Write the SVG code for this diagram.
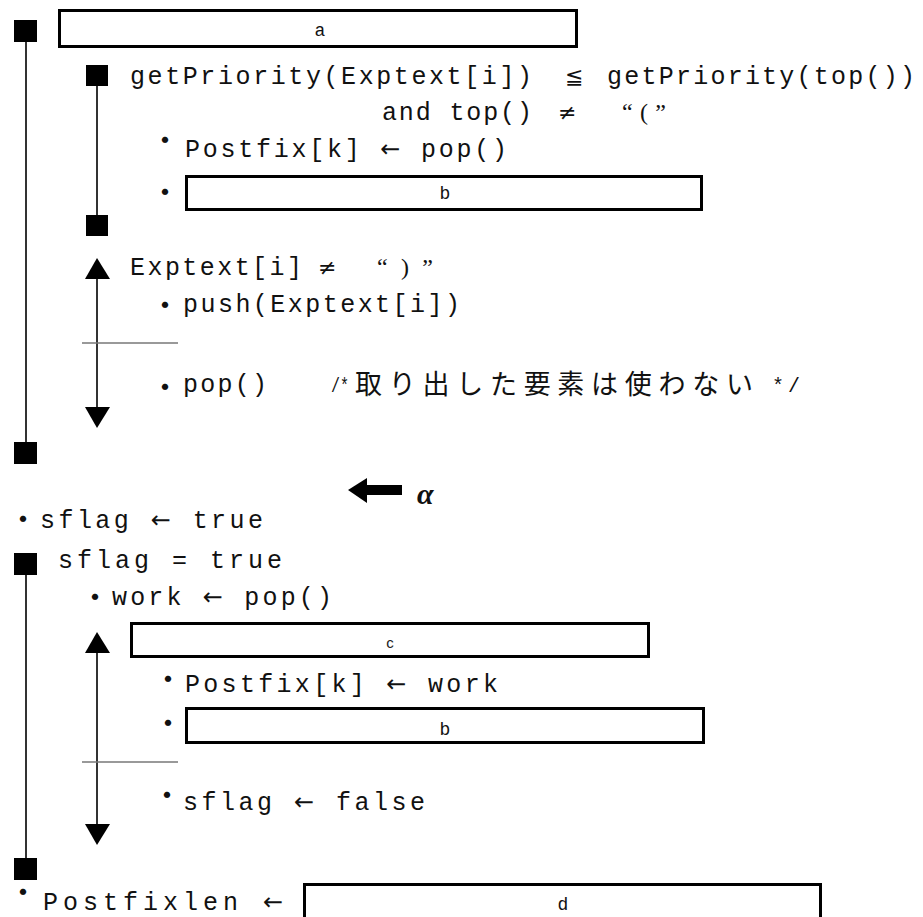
<svg xmlns="http://www.w3.org/2000/svg" width="923" height="917" viewBox="0 0 923 917">
<style>
.t{font-family:"Liberation Mono","DejaVu Sans Mono",monospace;font-size:25px;fill:#111}
.ar2{font-family:"DejaVu Sans",sans-serif;font-size:24px}
.s{font-family:"DejaVu Sans","Noto Sans CJK JP",sans-serif;font-size:22px;fill:#111}
.q{font-family:"Liberation Serif",serif;font-size:24px;fill:#111}
.j{font-family:"Noto Sans CJK JP","DejaVu Sans",sans-serif;font-size:27px;fill:#111}
.bu{font-family:"Noto Sans CJK JP",sans-serif;font-size:30px;fill:#111;text-anchor:middle}
.lb{font-family:"Liberation Mono",monospace;font-size:18px;fill:#111;text-anchor:middle}
.box{fill:#fff;stroke:#000;stroke-width:3}
.sq{fill:#000}
.ln{stroke:#333;stroke-width:2;fill:none}
.dv{stroke:#777;stroke-width:1.5;fill:none}
.ar{fill:#000}
</style>
<rect width="923" height="917" fill="#fff"/>
<g id="connectors">
<line class="ln" x1="26" y1="42" x2="26" y2="442"/>
<line class="ln" x1="97" y1="86" x2="97" y2="215"/>
<line class="ln" x1="97" y1="279" x2="97" y2="407"/>
<line class="dv" x1="82" y1="343" x2="178" y2="343"/>
<polygon class="ar" points="97,258 85,279 110,279"/>
<polygon class="ar" points="85,407 110,407 97,428"/>
<line class="ln" x1="26" y1="575" x2="26" y2="858"/>
<line class="ln" x1="97" y1="653" x2="97" y2="824"/>
<line class="dv" x1="82" y1="762" x2="178" y2="762"/>
<polygon class="ar" points="97,632 85,653 110,653"/>
<polygon class="ar" points="85,824 110,824 97,845"/>
</g>
<g id="loop1-start"><rect class="sq" x="14" y="20" width="23" height="22"/></g>
<g id="box-a"><rect class="box" x="59.5" y="10.5" width="517" height="36"/><text class="lb" x="320" y="36">a</text></g>
<g id="loop2-start"><rect class="sq" x="86" y="65" width="22" height="21"/>
<text class="t" x="130" y="84" textLength="402" lengthAdjust="spacing">getPriority(Exptext[i])</text>
<text class="s" x="565" y="84">≦</text>
<text class="t" x="607" y="84" textLength="308" lengthAdjust="spacing">getPriority(top())</text>
<text class="t" x="382" y="120" textLength="150" lengthAdjust="spacing">and top()</text>
<text class="s" x="558" y="120">≠</text>
<text class="q" x="622" y="120" textLength="44" lengthAdjust="spacing">“(”</text>
</g>
<g id="stmt-postfix-pop"><text class="bu" x="165" y="151">・</text><text class="t" x="185" y="157" textLength="322" lengthAdjust="spacing">Postfix[k] <tspan class="ar2">←</tspan> pop()</text></g>
<g id="box-b1"><text class="bu" x="165" y="203">・</text><rect class="box" x="186.5" y="176.5" width="515" height="33"/><text class="lb" x="445" y="199">b</text></g>
<g id="loop2-end"><rect class="sq" x="86" y="215" width="22" height="21"/></g>
<g id="branch1">
<text class="t" x="130" y="275" textLength="172" lengthAdjust="spacing">Exptext[i]</text>
<text class="s" x="318" y="275">≠</text>
<text class="q" x="377" y="275" textLength="56" lengthAdjust="spacing">“)”</text>
</g>
<g id="stmt-push"><text class="bu" x="165" y="316">・</text><text class="t" x="183" y="312" textLength="277" lengthAdjust="spacing">push(Exptext[i])</text></g>
<g id="stmt-pop"><text class="bu" x="165" y="398">・</text><text class="t" x="183" y="392" textLength="84" lengthAdjust="spacing">pop()</text>
<text class="t" x="331" y="392" style="font-size:20px" textLength="18" lengthAdjust="spacingAndGlyphs">/*</text>
<text class="j" x="355" y="394" textLength="398" lengthAdjust="spacing">取り出した要素は使わない</text>
<text class="t" x="772" y="392" style="font-size:20px" textLength="28" lengthAdjust="spacing">*/</text></g>
<g id="loop1-end"><rect class="sq" x="14" y="442" width="23" height="22"/></g>
<g id="alpha-mark">
<polygon class="ar" points="348,490 367,478 367,503"/>
<rect class="ar" x="366" y="485" width="36" height="10"/>
<text x="417" y="504" style="font-family:'Liberation Serif',serif;font-style:italic;font-weight:bold;font-size:30px;fill:#111">α</text>
</g>
<g id="stmt-sflag-true"><text class="bu" x="23" y="530">・</text><text class="t" x="40" y="528" textLength="223" lengthAdjust="spacing">sflag <tspan class="ar2">←</tspan> true</text></g>
<g id="loop3-start"><rect class="sq" x="14" y="553" width="23" height="22"/><text class="t" x="58" y="568" textLength="224" lengthAdjust="spacing">sflag = true</text></g>
<g id="stmt-work"><text class="bu" x="95" y="608">・</text><text class="t" x="112" y="605" textLength="220" lengthAdjust="spacing">work <tspan class="ar2">←</tspan> pop()</text></g>
<g id="box-c"><rect class="box" x="131.5" y="623.5" width="517" height="33"/><text x="390" y="648" style="font-family:'Liberation Sans',sans-serif;font-size:15px;fill:#222;text-anchor:middle">c</text></g>
<g id="stmt-postfix-work"><text class="bu" x="168" y="690">・</text><text class="t" x="185" y="692" textLength="313" lengthAdjust="spacing">Postfix[k] <tspan class="ar2">←</tspan> work</text></g>
<g id="box-b2"><text class="bu" x="168" y="734">・</text><rect class="box" x="186.5" y="708.5" width="517" height="34"/><text class="lb" x="445" y="735">b</text></g>
<g id="stmt-sflag-false"><text class="bu" x="167" y="806">・</text><text class="t" x="183" y="810" textLength="242" lengthAdjust="spacing">sflag <tspan class="ar2">←</tspan> false</text></g>
<g id="loop3-end"><rect class="sq" x="14" y="858" width="23" height="22"/></g>
<g id="stmt-postfixlen"><text class="bu" x="23" y="903">・</text><text class="t" x="43" y="910" textLength="240" lengthAdjust="spacing">Postfixlen  <tspan class="ar2">←</tspan></text>
<rect class="box" x="304.5" y="884.5" width="516" height="45"/><text class="lb" x="563" y="910">d</text></g>
</svg>
